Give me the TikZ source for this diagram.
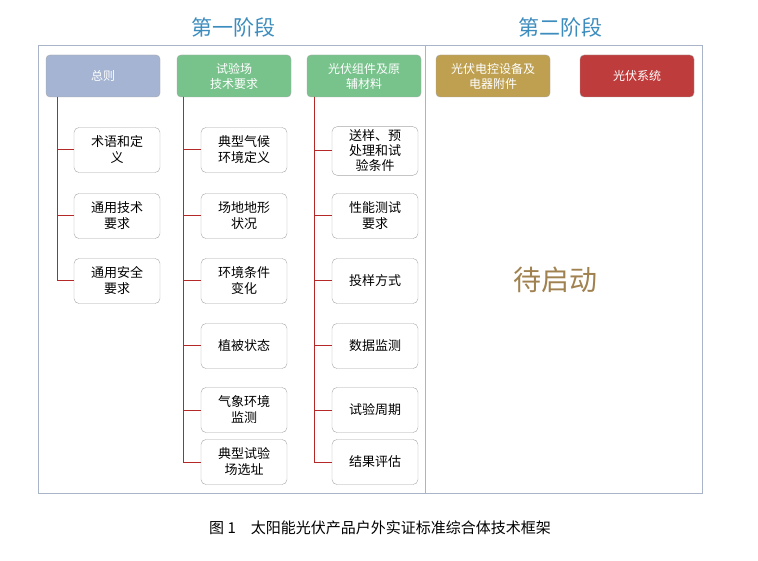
\documentclass[tikz,border=0pt]{standalone}
\usepackage{fontspec}
\newfontfamily\cjk{Noto Sans CJK SC}
\usetikzlibrary{positioning}
\definecolor{titleblue}{RGB}{60,140,190}
\definecolor{headgray}{RGB}{165,180,210}
\definecolor{headgreen}{RGB}{120,195,140}
\definecolor{headgold}{RGB}{190,160,80}
\definecolor{headred}{RGB}{190,60,60}
\definecolor{treeline}{RGB}{180,40,40}
\definecolor{framegray}{RGB}{170,180,200}
\tikzset{
  head/.style={draw=gray!70, rounded corners=4pt, minimum width=114pt, minimum height=42pt,
    align=center, text=white, font=\cjk\fontsize{12}{15}\selectfont},
  leaf/.style={draw=gray!70, rounded corners=5pt, fill=white, minimum width=86pt, minimum height=45pt,
    align=center, font=\cjk\fontsize{13}{16}\selectfont},
  branch/.style={treeline, line width=1pt}
}
\begin{document}
\begin{tikzpicture}[x=1pt,y=-1pt]
  \useasboundingbox (0,0) rectangle (758,561);
  \draw[framegray, line width=0.8pt] (38,45) rectangle (702,493);
  \draw[framegray, line width=0.8pt] (425,45) -- (425,493);
  \node[titleblue, font=\cjk\fontsize{21}{24}\selectfont] (stage1) at (233,28) {第一阶段};
  \node[titleblue, font=\cjk\fontsize{21}{24}\selectfont] (stage2) at (560,28) {第二阶段};
  % heads
  \node[head, fill=headgray] (general) at (103,76) {总则};
  \node[head, fill=headgreen] (site) at (234,76) {试验场\\技术要求};
  \node[head, fill=headgreen] (material) at (364,76) {光伏组件及原\\辅材料};
  \node[head, fill=headgold] (device) at (493,76) {光伏电控设备及\\电器附件};
  \node[head, fill=headred] (system) at (637,76) {光伏系统};
  \node[font=\cjk\fontsize{28}{32}\selectfont, text={rgb,255:red,160;green,130;blue,80}] (pending) at (555,280) {待启动};
  % column 1
  \node[leaf] (term) at (117,150) {术语和定\\义};
  \node[leaf] (tech) at (117,216) {通用技术\\要求};
  \node[leaf] (safe) at (117,281) {通用安全\\要求};
  % column 2
  \node[leaf] (climate) at (244,150) {典型气候\\环境定义};
  \node[leaf] (terrain) at (244,216) {场地地形\\状况};
  \node[leaf] (envchg) at (244,281) {环境条件\\变化};
  \node[leaf] (plant) at (244,346) {植被状态};
  \node[leaf] (weather) at (244,410) {气象环境\\监测};
  \node[leaf] (location) at (244,462) {典型试验\\场选址};
  % column 3
  \node[leaf, font=\cjk\fontsize{13}{15}\selectfont] (sample) at (375,151) {送样、预\\处理和试\\验条件};
  \node[leaf] (perf) at (375,216) {性能测试\\要求};
  \node[leaf] (deliver) at (375,281) {投样方式};
  \node[leaf] (monitor) at (375,346) {数据监测};
  \node[leaf] (period) at (375,410) {试验周期};
  \node[leaf] (result) at (375,462) {结果评估};
  % tree lines
  \coordinate (t1) at (57,97);
  \coordinate (t2) at (183,97);
  \coordinate (t3) at (314,97);
  \draw[branch] (t1) |- (term.west);
  \draw[branch] (t1) |- (tech.west);
  \draw[branch] (t1) |- (safe.west);
  \foreach \n in {climate,terrain,envchg,plant,weather,location}
    \draw[branch] (t2) |- (\n.west);
  \foreach \n in {sample,perf,deliver,monitor,period,result}
    \draw[branch] (t3) |- (\n.west);
  \node[font=\cjk\fontsize{15}{18}\selectfont] (caption) at (380,528) {图 1\quad 太阳能光伏产品户外实证标准综合体技术框架};
\end{tikzpicture}
\end{document}
